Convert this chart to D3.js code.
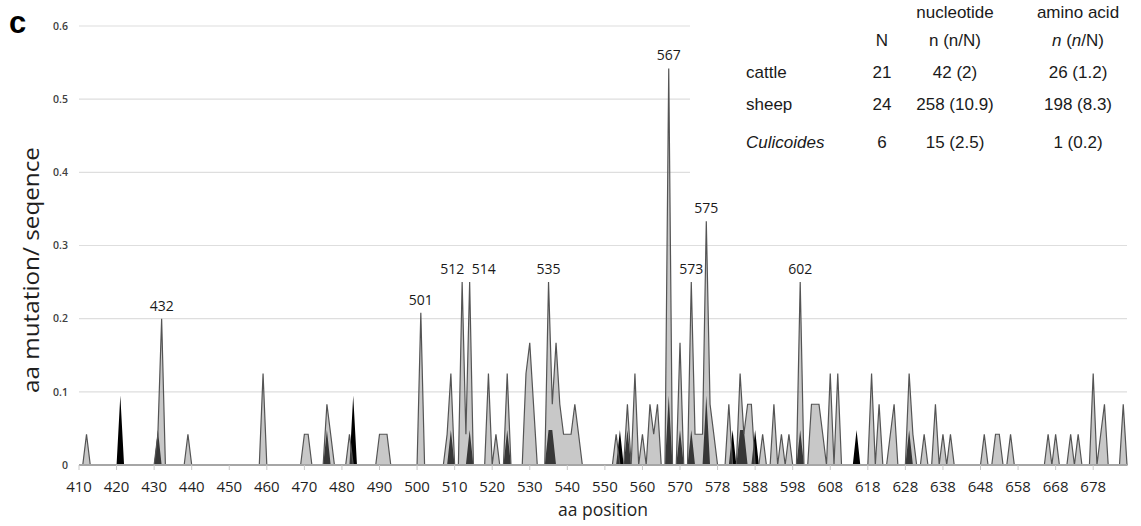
<!DOCTYPE html>
<html>
<head>
<meta charset="utf-8">
<script src="https://cdn.jsdelivr.net/npm/d3@7"></script>
<style>
  body { margin: 0; background: #fff; }
  svg { display: block; }
</style>
</head>
<body>
<script>
const width = 1141, height = 526;
const margin = { top: 26, right: 14, bottom: 61, left: 79 };

// category axis: 280 positions, a label on every 10th one
const categoryCount = 280;
const tickLabels = ["410", "420", "430", "440", "450", "460", "470", "480", "490", "500",
    "510", "520", "530", "540", "550", "560", "570", "578", "588", "598",
    "608", "618", "628", "638", "648", "658", "668", "678"];
const yTicks = [0, 0.1, 0.2, 0.3, 0.4, 0.5, 0.6];

// [category index, aa mutations per sequence]; all other positions are 0
const cattle = [
    [11, 0.095], [21, 0.048], [66, 0.048], [73, 0.095], [99, 0.048], [104, 0.048],
    [114, 0.048], [125, 0.048], [126, 0.048], [144, 0.048], [146, 0.048], [157, 0.095],
    [160, 0.048], [163, 0.048], [167, 0.095], [174, 0.048], [176, 0.048], [177, 0.048],
    [180, 0.048], [192, 0.048], [207, 0.048], [221, 0.048]
];

const sheep = [
    [2, 0.042], [21, 0.042], [22, 0.2], [29, 0.042], [49, 0.125], [60, 0.042], [61, 0.042],
    [66, 0.083], [67, 0.042], [72, 0.042], [80, 0.042], [81, 0.042], [82, 0.042],
    [91, 0.208], [98, 0.042], [99, 0.125], [102, 0.25], [103, 0.042], [104, 0.25],
    [109, 0.125], [111, 0.042], [114, 0.125], [119, 0.125], [120, 0.167], [121, 0.083],
    [125, 0.25], [126, 0.083], [127, 0.167], [128, 0.083], [129, 0.042], [130, 0.042],
    [131, 0.042], [132, 0.083], [133, 0.042], [143, 0.042], [146, 0.083], [148, 0.125],
    [150, 0.042], [152, 0.083], [153, 0.042], [154, 0.083], [157, 0.542], [160, 0.167],
    [163, 0.25], [164, 0.042], [165, 0.042], [166, 0.042], [167, 0.333], [168, 0.083],
    [169, 0.042], [173, 0.083], [176, 0.125], [177, 0.042], [178, 0.083], [179, 0.083],
    [182, 0.042], [185, 0.083], [187, 0.042], [189, 0.042], [192, 0.25], [195, 0.083],
    [196, 0.083], [197, 0.083], [198, 0.042], [200, 0.125], [202, 0.125], [211, 0.125],
    [213, 0.083], [216, 0.042], [217, 0.083], [221, 0.125], [222, 0.042], [225, 0.042],
    [228, 0.083], [230, 0.042], [232, 0.042], [241, 0.042], [244, 0.042], [245, 0.042],
    [248, 0.042], [258, 0.042], [260, 0.042], [264, 0.042], [266, 0.042], [270, 0.125],
    [272, 0.042], [273, 0.083], [278, 0.083]
];

// labelled peaks
const peakLabels = ["432", "501", "512", "514", "535", "567", "573", "575", "602"];
const peakIndex = [22, 91, 102, 104, 125, 157, 163, 167, 192];

// summary table
const hosts = ["cattle", "sheep", "Culicoides"];
const hostN = ["21", "24", "6"];
const ntCounts = ["42 (2)", "258 (10.9)", "15 (2.5)"];
const aaCounts = ["26 (1.2)", "198 (8.3)", "1 (0.2)"];

const svg = d3.select("body").append("svg")
    .attr("width", width)
    .attr("height", height);

const categories = d3.range(categoryCount);
const x = d3.scalePoint()
    .domain(categories)
    .range([margin.left, width - margin.right]);
const y = d3.scaleLinear()
    .domain([0, 0.6])
    .range([height - margin.bottom, margin.top]);

// dense series, zero where nothing was found
function dense(pairs) {
    const m = new Map(pairs);
    return categories.map(i => ({ i, v: m.get(i) || 0 }));
}

// gridlines
svg.selectAll(".grid")
    .data(yTicks.filter(d => d > 0))
    .enter()
    .append("line")
    .attr("x1", margin.left)
    .attr("x2", width - margin.right)
    .attr("y1", d => y(d))
    .attr("y2", d => y(d))
    .attr("stroke", "#dedede")
    .attr("stroke-width", 1.2);

// y tick labels
svg.selectAll(".ylab")
    .data(yTicks)
    .enter()
    .append("text")
    .attr("x", 68)
    .attr("y", d => y(d))
    .attr("dy", "0.35em")
    .attr("text-anchor", "end")
    .attr("font-family", "'Open Sans', sans-serif")
    .attr("font-size", "10.5px")
    .attr("font-weight", 600)
    .attr("fill", "#404040")
    .text(d => d3.format("~g")(d));

const area = d3.area()
    .x(d => x(d.i))
    .y0(y(0))
    .y1(d => y(d.v));

// cattle underneath, sheep on top with some transparency
svg.append("path")
    .datum(dense(cattle))
    .attr("d", area)
    .attr("fill", "#000");

svg.append("path")
    .datum(dense(sheep))
    .attr("d", area)
    .attr("fill", "rgb(128,128,128)")
    .attr("fill-opacity", 0.43)
    .attr("stroke", "#545454")
    .attr("stroke-width", 1.2)
    .attr("stroke-linejoin", "miter");

// x axis line and ticks
svg.append("line")
    .attr("x1", margin.left)
    .attr("x2", width - margin.right)
    .attr("y1", y(0))
    .attr("y2", y(0))
    .attr("stroke", "#a6a6a6")
    .attr("stroke-width", 2);

svg.selectAll(".xtick")
    .data(tickLabels)
    .enter()
    .append("line")
    .attr("x1", (d, k) => x(k * 10))
    .attr("x2", (d, k) => x(k * 10))
    .attr("y1", y(0))
    .attr("y2", y(0) + 5)
    .attr("stroke", "#c8c8c8")
    .attr("stroke-width", 1);

svg.selectAll(".xlab")
    .data(tickLabels)
    .enter()
    .append("text")
    .attr("x", (d, k) => x(k * 10))
    .attr("y", 491.5)
    .attr("text-anchor", "middle")
    .attr("font-family", "'Open Sans', sans-serif")
    .attr("font-size", "15px")
    .attr("fill", "#1f1f1f")
    .text(d => d);

// peak labels
const nudge = { "512": -10, "514": 14 };
svg.selectAll(".peak")
    .data(peakLabels)
    .enter()
    .append("text")
    .attr("x", (d, k) => x(peakIndex[k]) + (nudge[d] || 0))
    .attr("y", (d, k) => y(sheep.find(p => p[0] === peakIndex[k])[1]) - 8)
    .attr("text-anchor", "middle")
    .attr("font-family", "'Open Sans', sans-serif")
    .attr("font-size", "14px")
    .attr("fill", "#1a1a1a")
    .text(d => d);

// axis titles
svg.append("text")
    .attr("x", (margin.left + width - margin.right) / 2)
    .attr("y", 516)
    .attr("text-anchor", "middle")
    .attr("font-family", "'Open Sans', sans-serif")
    .attr("font-size", "17.5px")
    .attr("fill", "#1f1f1f")
    .text("aa position");

svg.append("text")
    .attr("transform", "translate(39,270) rotate(-90)")
    .attr("text-anchor", "middle")
    .attr("font-family", "'Open Sans', sans-serif")
    .attr("font-size", "21px")
    .attr("textLength", 246)
    .attr("lengthAdjust", "spacingAndGlyphs")
    .attr("fill", "#1f1f1f")
    .text("aa mutation/ seqence");

// panel letter
svg.append("text")
    .attr("x", 9)
    .attr("y", 33)
    .attr("font-family", "'Liberation Sans', Arial, sans-serif")
    .attr("font-size", "31px")
    .attr("font-weight", "bold")
    .attr("fill", "#000")
    .text("c");

// table box covers the gridlines behind it
svg.append("rect")
    .attr("x", 690)
    .attr("y", 0)
    .attr("width", width - 690)
    .attr("height", 190)
    .attr("fill", "#fff");

const tfont = "'Liberation Sans', Arial, sans-serif";
const colX = { host: 746, n: 882, nt: 955, aa: 1078 };
const rowY = [72, 104, 142];

function tText(xp, yp, anchor) {
    return svg.append("text")
        .attr("x", xp)
        .attr("y", yp)
        .attr("dy", "0.35em")
        .attr("text-anchor", anchor)
        .attr("font-family", tfont)
        .attr("font-size", "17px")
        .attr("fill", "#1a1a1a");
}

tText(colX.nt, 12, "middle").text("nucleotide");
tText(colX.aa, 12, "middle").text("amino acid");
tText(colX.n, 40, "middle").text("N");
tText(colX.nt, 40, "middle").text("n (n/N)");
const aaHead = tText(colX.aa, 40, "middle");
aaHead.append("tspan").attr("font-style", "italic").text("n");
aaHead.append("tspan").text(" (");
aaHead.append("tspan").attr("font-style", "italic").text("n");
aaHead.append("tspan").text("/N)");

hosts.forEach((h, k) => {
    tText(colX.host, rowY[k], "start")
        .attr("font-style", h === "Culicoides" ? "italic" : "normal")
        .text(h);
    tText(colX.n, rowY[k], "middle").text(hostN[k]);
    tText(colX.nt, rowY[k], "middle").text(ntCounts[k]);
    tText(colX.aa, rowY[k], "middle").text(aaCounts[k]);
});
</script>
</body>
</html>
